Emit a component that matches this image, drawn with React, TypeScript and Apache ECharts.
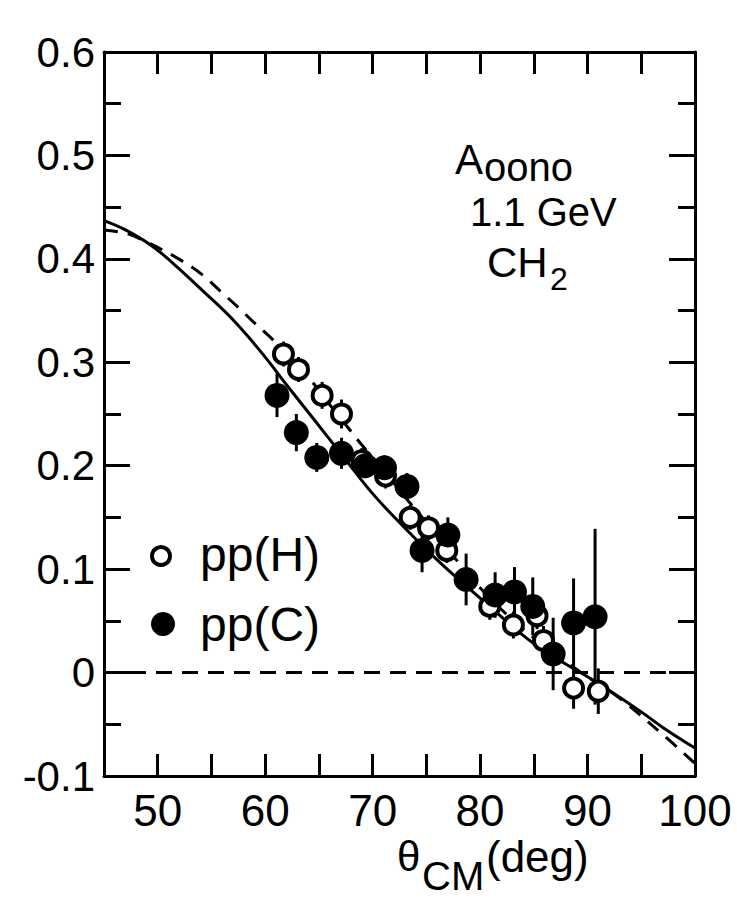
import React, { useEffect, useRef } from "react";
import * as echarts from "echarts";

// ---- data ----
const xTickLabels = [50, 60, 70, 80, 90, 100];
const yTickLabels = [-0.1, 0, 0.1, 0.2, 0.3, 0.4, 0.5, 0.6];

// pp(H) open circles
const ppHTheta = [61.7, 63.1, 65.3, 67.1, 69.0, 71.2, 73.5, 75.2, 76.9, 80.9, 83.1, 85.3, 85.9, 88.7, 91.0];
const ppHA = [0.308, 0.293, 0.268, 0.25, 0.205, 0.19, 0.15, 0.14, 0.118, 0.064, 0.046, 0.055, 0.031, -0.015, -0.018];
const ppHErr = [0.012, 0.012, 0.013, 0.014, 0.012, 0.012, 0.012, 0.012, 0.012, 0.013, 0.013, 0.013, 0.014, 0.02, 0.022];

// pp(C) filled circles
const ppCTheta = [61.1, 62.9, 64.8, 67.1, 69.3, 71.1, 73.2, 74.6, 77.0, 78.7, 81.4, 83.2, 84.9, 86.8, 88.7, 90.7];
const ppCA = [0.268, 0.232, 0.208, 0.212, 0.2, 0.198, 0.18, 0.118, 0.133, 0.09, 0.075, 0.078, 0.064, 0.018, 0.048, 0.054];
const ppCErr = [0.021, 0.018, 0.014, 0.015, 0.012, 0.012, 0.013, 0.021, 0.017, 0.025, 0.022, 0.024, 0.028, 0.035, 0.043, 0.085];

// theory curves
const solidTheta = [45, 47, 49.4, 51.5, 54.1, 57.2, 60, 62, 64.6, 67.4, 70, 72.7, 76, 80, 84, 86, 88, 90, 92, 95, 97, 100];
const solidA = [0.437, 0.428, 0.413, 0.395, 0.37, 0.339, 0.305, 0.278, 0.244, 0.207, 0.173, 0.143, 0.109, 0.072, 0.036, 0.021, 0.008, -0.004, -0.017, -0.038, -0.053, -0.073];

const dashTheta = [45, 47.3, 49, 50.2, 52.1, 54.1, 55.8, 57.5, 58.9, 60.8, 62.5, 64.3, 66, 67.7, 69, 71, 73, 75, 77, 80, 82.5, 85.4, 88, 90, 93, 96.9, 100];
const dashA = [0.428, 0.424, 0.416, 0.41, 0.399, 0.385, 0.369, 0.353, 0.339, 0.321, 0.302, 0.282, 0.259, 0.237, 0.22, 0.196, 0.17, 0.145, 0.119, 0.082, 0.056, 0.03, 0.01, -0.004, -0.025, -0.059, -0.088];

const zeroLine = [[45, 0], [100, 0]];

const FONT = "Liberation Sans, Arial, sans-serif";

export default function App() {
  const ref = useRef<HTMLDivElement>(null);
  useEffect(() => {
    if (!ref.current) return;
    const chart = echarts.init(ref.current, null, { renderer: "svg" });
    const black = "#000";
    const tickStyle = { color: black, width: 3 };
    const xAxisBase = {
      type: "value",
      min: 45,
      max: 100,
      interval: 5,
      axisLine: { show: true, onZero: false, lineStyle: { color: black, width: 3 } },
      axisTick: { show: true, inside: true, length: 22, lineStyle: tickStyle },
      splitLine: { show: false },
    };
    const yAxisBase = {
      type: "value",
      min: -0.1,
      max: 0.6,
      interval: 0.1,
      axisLine: { show: true, onZero: false, lineStyle: { color: black, width: 3 } },
      axisTick: { show: true, inside: true, length: 26, lineStyle: tickStyle },
      minorTick: { show: true, splitNumber: 2, length: 17, lineStyle: tickStyle },
      splitLine: { show: false },
      minorSplitLine: { show: false },
    };
    const errRender = (params: any, api: any) => {
      const x = api.value(0);
      const p1 = api.coord([x, api.value(1)]);
      const p2 = api.coord([x, api.value(2)]);
      return {
        type: "line",
        shape: { x1: p1[0], y1: p1[1], x2: p2[0], y2: p2[1] },
        style: { stroke: black, lineWidth: 3 },
      };
    };
    const text = (t: string, left: number, y: number, size: number) => ({
      type: "text",
      x: left,
      y,
      style: {
        text: t,
        fontSize: size,
        fontFamily: FONT,
        fill: black,
        verticalAlign: "middle",
        align: "left",
      },
    });
    chart.setOption({
      animation: false,
      backgroundColor: "#fff",
      grid: { left: 104, right: 42, top: 52, bottom: 131, containLabel: false },
      xAxis: [
        {
          ...xAxisBase,
          position: "bottom",
          axisLabel: {
            show: true,
            margin: 12,
            fontSize: 44,
            fontFamily: FONT,
            color: black,
            formatter: (v: number) => (xTickLabels.includes(Math.round(v)) ? String(Math.round(v)) : ""),
          },
        },
        { ...xAxisBase, position: "top", axisLabel: { show: false } },
      ],
      yAxis: [
        {
          ...yAxisBase,
          position: "left",
          axisLabel: {
            show: true,
            margin: 9,
            fontSize: 42,
            fontFamily: FONT,
            color: black,
            formatter: (v: number) => {
              const r = Math.round(v * 10) / 10;
              const lab = yTickLabels.find((t) => Math.abs(t - r) < 1e-6);
              if (lab === undefined) return "";
              return lab === 0 ? "0" : lab.toFixed(1);
            },
          },
        },
        { ...yAxisBase, position: "right", axisLabel: { show: false } },
      ],
      series: [
        {
          name: "zero",
          type: "line",
          data: zeroLine,
          showSymbol: false,
          lineStyle: { color: black, width: 3, type: [16, 10] },
          z: 1,
        },
        {
          name: "theory solid",
          type: "line",
          data: solidTheta.map((t, i) => [t, solidA[i]]),
          smooth: 0.4,
          showSymbol: false,
          lineStyle: { color: black, width: 3 },
          z: 2,
        },
        {
          name: "theory dashed",
          type: "line",
          data: dashTheta.map((t, i) => [t, dashA[i]]),
          smooth: 0.4,
          showSymbol: false,
          lineStyle: { color: black, width: 3, type: [14, 10] },
          z: 2,
        },
        {
          name: "pp(H) err",
          type: "custom",
          renderItem: errRender,
          encode: { x: 0, y: [1, 2] },
          data: ppHTheta.map((t, i) => [t, ppHA[i] - ppHErr[i], ppHA[i] + ppHErr[i]]),
          z: 3,
        },
        {
          name: "pp(C) err",
          type: "custom",
          renderItem: errRender,
          encode: { x: 0, y: [1, 2] },
          data: ppCTheta.map((t, i) => [t, ppCA[i] - ppCErr[i], ppCA[i] + ppCErr[i]]),
          z: 3,
        },
        {
          name: "pp(H)",
          type: "scatter",
          data: ppHTheta.map((t, i) => [t, ppHA[i]]),
          symbol: "circle",
          symbolSize: 19,
          itemStyle: { color: "#fff", borderColor: black, borderWidth: 4, opacity: 1 },
          z: 4,
        },
        {
          name: "pp(C)",
          type: "scatter",
          data: ppCTheta.map((t, i) => [t, ppCA[i]]),
          symbol: "circle",
          symbolSize: 25,
          itemStyle: { color: black, opacity: 1 },
          z: 5,
        },
      ],
      graphic: [
        text("A", 455, 159, 42),
        text("oono", 484, 167, 40),
        text("1.1 GeV", 470, 212, 40),
        text("CH", 487, 262, 42),
        text("2", 550, 279, 32),
        {
          type: "circle",
          shape: { cx: 161, cy: 556, r: 9 },
          style: { fill: "none", stroke: black, lineWidth: 4 },
        },
        text("pp(H)", 200, 554, 48),
        {
          type: "circle",
          shape: { cx: 163, cy: 624, r: 12 },
          style: { fill: black },
        },
        text("pp(C)", 200, 624, 48),
        text("θ", 397, 856, 42),
        text("CM", 422, 876, 40),
        text("(deg)", 486, 856, 44),
      ],
    });
    return () => chart.dispose();
  }, []);
  return (
    <div
      ref={ref}
      style={{ position: "absolute", left: 0, top: 0, width: 737, height: 907, background: "#fff" }}
    />
  );
}
